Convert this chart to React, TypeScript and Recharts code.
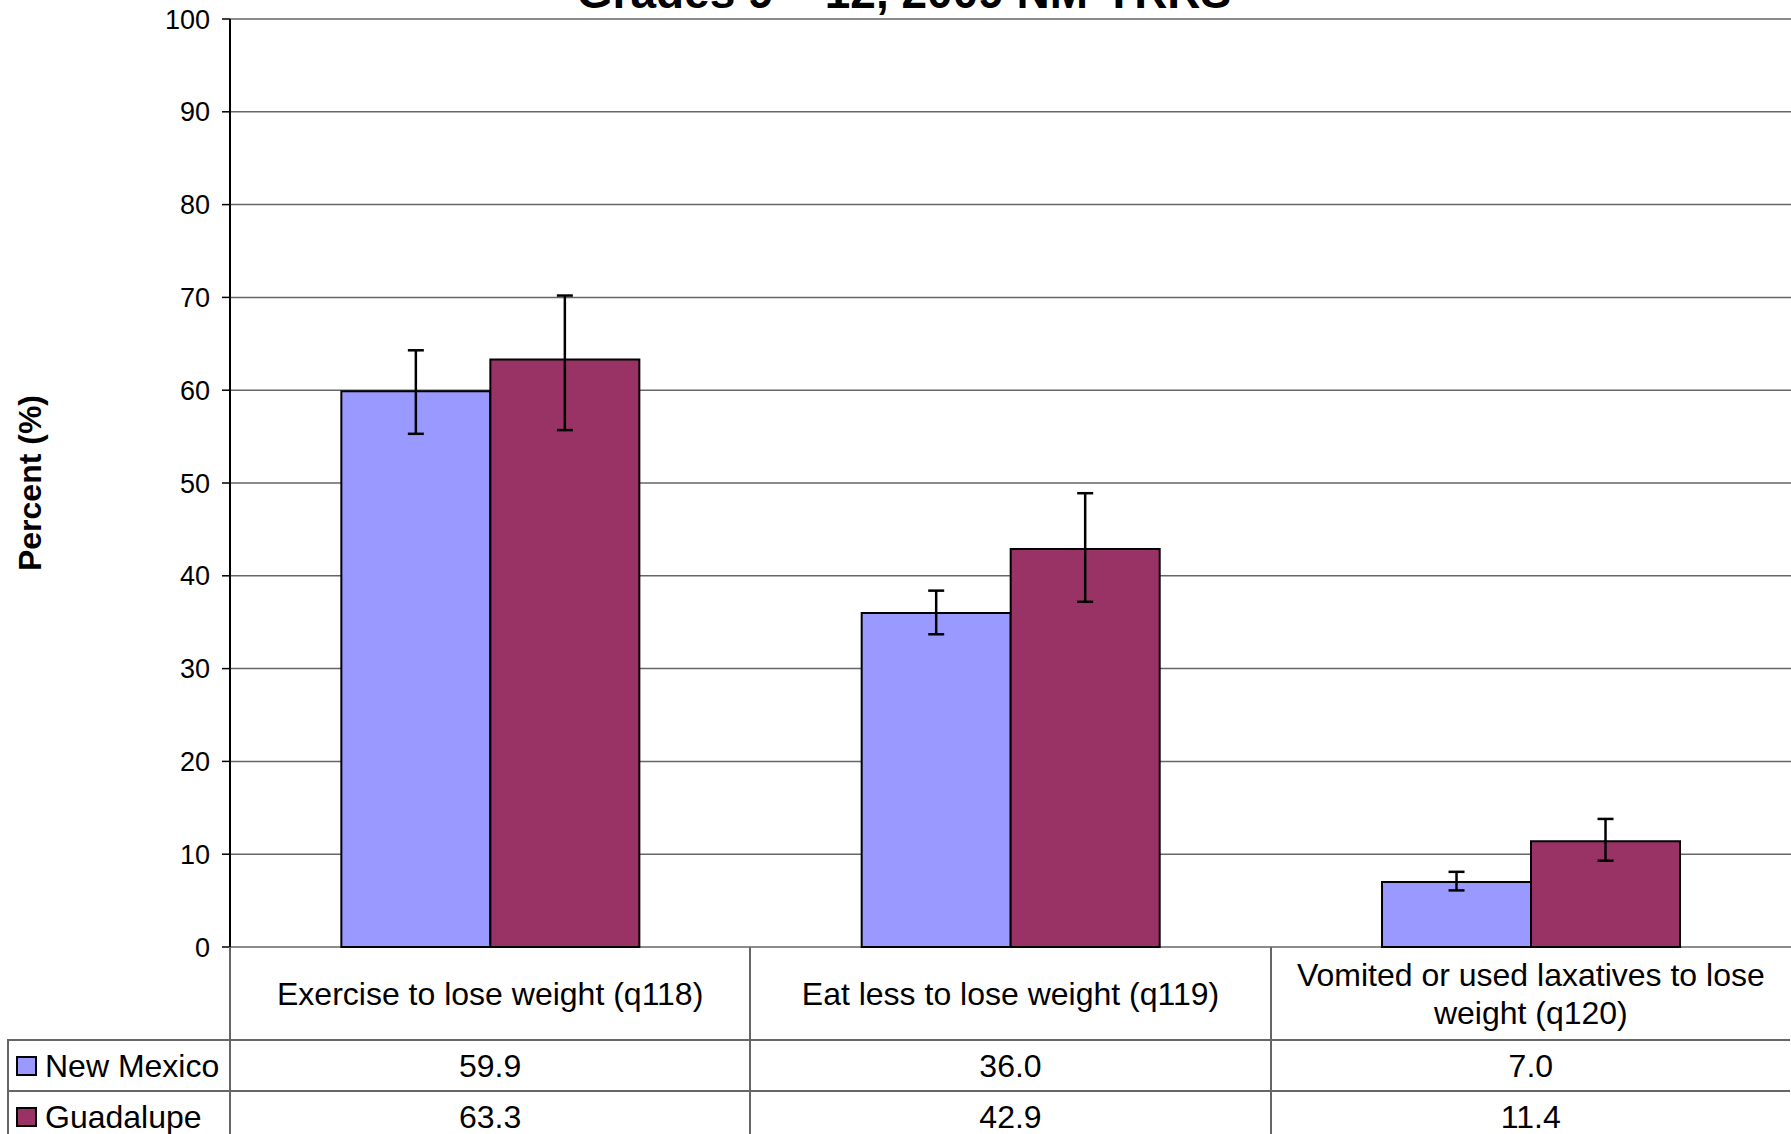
import { BarChart, Bar, XAxis, YAxis, CartesianGrid, ErrorBar, Label } from 'recharts'

const categories = [
  'Exercise to lose weight (q118)',
  'Eat less to lose weight (q119)',
  'Vomited or used laxatives to lose weight (q120)',
]
const seriesNames = ['New Mexico', 'Guadalupe']
const seriesColors = ['#9999FF', '#993366']
const newMexico = [59.9, 36.0, 7.0]
const guadalupe = [63.3, 42.9, 11.4]
// 95% confidence limits [low, high]
const newMexicoCI = [[55.3, 64.3], [33.7, 38.4], [6.1, 8.1]]
const guadalupeCI = [[55.7, 70.2], [37.2, 48.9], [9.3, 13.8]]
const yTicks = [0, 10, 20, 30, 40, 50, 60, 70, 80, 90, 100]
const titleText = 'Grades 9 – 12, 2009 NM-YRRS'

const data = categories.map((name, i) => ({
  name,
  nm: newMexico[i],
  gu: guadalupe[i],
  nmErr: [newMexico[i] - newMexicoCI[i][0], newMexicoCI[i][1] - newMexico[i]],
  guErr: [guadalupe[i] - guadalupeCI[i][0], guadalupeCI[i][1] - guadalupe[i]],
}))
const tableRows = [newMexico, guadalupe]

const W = 1791
const H = 1134
const PLOT_LEFT = 230
const PLOT_TOP = 19
const PLOT_BOTTOM = 947
const CHART_EXTRA = 24 // room under the plot so the "0" tick is not clipped
const HEAD_BOTTOM = 1039
const ROW_H = 51
const LEGEND_LEFT = 7
const FONT = 'Arial, "Liberation Sans", Helvetica, sans-serif'
const LINE = '2px solid #666'

const YLabel = () => (
  <text
    x={30}
    y={(PLOT_TOP + PLOT_BOTTOM) / 2}
    transform={`rotate(-90, 30, ${(PLOT_TOP + PLOT_BOTTOM) / 2})`}
    textAnchor="middle"
    dominantBaseline="central"
    style={{ fontFamily: FONT, fontSize: 32, fontWeight: 700, fill: '#000' }}
  >
    Percent (%)
  </text>
)

const App = () => {
  const colW = (W - PLOT_LEFT) / categories.length

  const cell = (left: number, top: number, width: number, height: number, extra: React.CSSProperties = {}): React.CSSProperties => ({
    position: 'absolute',
    left,
    top,
    width,
    height,
    borderLeft: LINE,
    borderTop: LINE,
    boxSizing: 'border-box',
    display: 'flex',
    alignItems: 'center',
    justifyContent: 'center',
    textAlign: 'center',
    fontFamily: FONT,
    fontSize: 32,
    color: '#000',
    ...extra,
  })

  return (
    <div style={{ position: 'fixed', left: 0, top: 0, width: W, height: H, overflow: 'hidden', background: '#fff' }}>
      <div
        style={{
          position: 'absolute',
          left: 904 - 600,
          width: 1200,
          top: -31,
          textAlign: 'center',
          fontFamily: FONT,
          fontWeight: 700,
          fontSize: 46,
          lineHeight: '46px',
          whiteSpace: 'nowrap',
        }}
      >
        {titleText}
      </div>

      <div style={{ position: 'absolute', left: 0, top: 0 }}>
        <BarChart
          width={W}
          height={PLOT_BOTTOM + CHART_EXTRA}
          data={data}
          margin={{ top: PLOT_TOP, right: 0, bottom: CHART_EXTRA, left: 0 }}
          barCategoryGap="21.4%"
          barGap={0}
        >
          <CartesianGrid horizontal vertical={false} stroke="#666" strokeWidth={1.5} />
          <XAxis
            dataKey="name"
            height={0}
            tick={false}
            tickLine={false}
            axisLine={{ stroke: '#000', strokeWidth: 2 }}
          />
          <YAxis
            width={PLOT_LEFT}
            domain={[0, 100]}
            ticks={yTicks}
            interval={0}
            tickSize={8}
            tickMargin={12}
            axisLine={{ stroke: '#000', strokeWidth: 2 }}
            tickLine={{ stroke: '#000', strokeWidth: 1.5 }}
            tick={{ fill: '#000', fontSize: 27, fontFamily: FONT }}
          >
            <Label content={<YLabel />} />
          </YAxis>
          <Bar dataKey="nm" name={seriesNames[0]} fill={seriesColors[0]} stroke="#000" strokeWidth={2} isAnimationActive={false}>
            <ErrorBar dataKey="nmErr" width={8} stroke="#000" strokeWidth={2.5} isAnimationActive={false} />
          </Bar>
          <Bar dataKey="gu" name={seriesNames[1]} fill={seriesColors[1]} stroke="#000" strokeWidth={2} isAnimationActive={false}>
            <ErrorBar dataKey="guErr" width={8} stroke="#000" strokeWidth={2.5} isAnimationActive={false} />
          </Bar>
        </BarChart>
      </div>

      {/* data table under the plot */}
      {categories.map((c, i) => (
        <div
          key={c}
          style={cell(PLOT_LEFT + i * colW - 1, PLOT_BOTTOM, colW, HEAD_BOTTOM - PLOT_BOTTOM + 1, {
            borderTop: 'none',
            lineHeight: '38px',
            padding: '0 24px',
          })}
        >
          {c}
        </div>
      ))}
      {tableRows.map((row, r) => (
        <div key={seriesNames[r]}>
          <div
            style={cell(LEGEND_LEFT, HEAD_BOTTOM + r * ROW_H, PLOT_LEFT - LEGEND_LEFT, ROW_H + 1, {
              justifyContent: 'flex-start',
            })}
          >
            <span
              style={{
                display: 'inline-block',
                width: 21,
                height: 20,
                marginLeft: 7,
                marginRight: 8,
                boxSizing: 'border-box',
                border: '2px solid #000',
                background: seriesColors[r],
              }}
            />
            {seriesNames[r]}
          </div>
          {row.map((v, i) => (
            <div key={i} style={cell(PLOT_LEFT + i * colW - 1, HEAD_BOTTOM + r * ROW_H, colW, ROW_H + 1)}>
              {v.toFixed(1)}
            </div>
          ))}
        </div>
      ))}
    </div>
  )
}

export default App
